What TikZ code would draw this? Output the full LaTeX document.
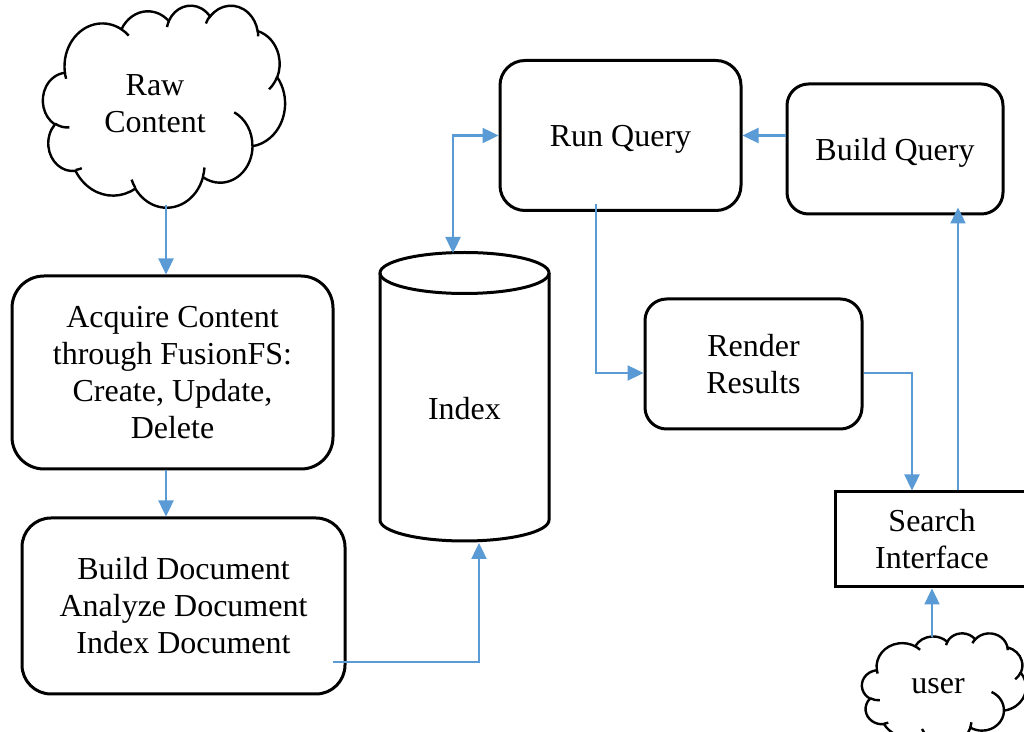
\documentclass[tikz,border=0pt]{standalone}
\usepackage{fontspec}
\setmainfont{Liberation Serif}
\usetikzlibrary{arrows.meta,calc}
\definecolor{flowblue}{HTML}{5B9BD5}

% Elliptic arc from the current point: radii, start angle and sweep,
% both angles measured from the centre of the ellipse.
\newcommand\ooarc[4]{%
  \pgfextra{%
    \pgfmathsetmacro\oaS{atan2((#1)*sin(#3),(#2)*cos(#3))}%
    \pgfmathsetmacro\oaE{atan2((#1)*sin((#3)+(#4)),(#2)*cos((#3)+(#4)))}%
    \pgfmathsetmacro\oaD{mod(\oaE-(\oaS)+720,360)}%
  }%
  arc[start angle=\oaS, delta angle=\oaD, x radius=#1, y radius=#2]}

% Cloud outline in a 43.2 x 43.2 box (y pointing down)
\newcommand\cloudoutline{%
  (3.9,14.37)
  \ooarc{6.753}{9.19}{-190.4875}{123.7805}
  \ooarc{5.333}{7.267}{-144.1024}{89.9452}
  \ooarc{4.365}{5.945}{-145.8079}{99.723}
  \ooarc{4.857}{6.595}{-130.9861}{117.2417}
  \ooarc{5.333}{7.273}{-78.7089}{109.0269}
  \ooarc{6.775}{9.22}{-46.2673}{130.269}
  \ooarc{5.785}{7.867}{0.625}{114.0333}
  \ooarc{6.752}{9.215}{22.4516}{115.1726}
  \ooarc{7.72}{10.543}{66.2426}{75.711}
  \ooarc{4.36}{5.918}{-274.9421}{146.7356}
  \ooarc{4.345}{5.945}{-246.8285}{152.5189}
  -- cycle}

% Short inner strokes between the puffs
\newcommand\cloudcreases{%
  (4.693,26.177) \ooarc{4.345}{5.945}{86.742}{26.4295}
  (6.928,34.899) \ooarc{4.36}{5.918}{73.6105}{11.4475}
  (16.478,39.09) \ooarc{6.752}{9.215}{137.6242}{14.0811}
  (28.827,34.751) \ooarc{6.752}{9.215}{6.4533}{15.9984}
  (34.129,22.954) \ooarc{5.785}{7.867}{-70.2924}{70.9174}
  (41.798,15.354) \ooarc{5.333}{7.273}{30.318}{27.7515}
  (38.324,5.426) \ooarc{4.857}{6.595}{-13.7443}{14.8589}
  (29.078,3.952) \ooarc{4.857}{6.595}{-149.1815}{18.1954}
  (22.141,4.72) \ooarc{4.365}{5.945}{-163.4943}{17.6864}
  (14,5.192) \ooarc{6.753}{9.19}{-66.707}{12.3194}
  (4.127,15.789) \ooarc{6.753}{9.19}{157.6544}{11.8582}}

\begin{document}
\begin{tikzpicture}[x=0.5pt, y=0.5pt, yscale=-1,
  every node/.style={font=\fontsize{16}{18.5}\selectfont, align=center, inner sep=0pt},
  box/.style={draw, line width=1.5pt, rounded corners=#1},
  outline/.style={line width=1.5pt},
  cloudline/.style={line width=1.2pt},
  >={Triangle[length=8pt, width=7.5pt]},
  flow/.style={draw=flowblue, line width=1.2pt, ->}]

  \useasboundingbox (0,0) rectangle (1024,732);
  \fill[white] (0,0) rectangle (1024,732);
  \clip (0,0) rectangle (1024,732);

  % clouds
  \begin{scope}[shift={(43,5)}, xscale=242/43.2, yscale=202/43.2, cloudline]
    \draw \cloudoutline;
    \draw \cloudcreases;
  \end{scope}
  \begin{scope}[shift={(862,633)}, xscale=164/43.2, yscale=111/43.2, cloudline]
    \draw \cloudoutline;
    \draw \cloudcreases;
  \end{scope}
  \node (rawtxt) at (155,104) {Raw\\Content};
  \node (usertxt) at (938,686) {user};

  % index store
  \draw[outline] (464.5,273) ellipse[x radius=84.5, y radius=20.5];
  \draw[outline] (380,273) -- (380,520)
    arc[start angle=180, end angle=0, x radius=84.5, y radius=21] -- (549,273);
  \node[text depth=0pt] (index) at (464.5,408) {Index};

  % process boxes
  \node[box=16pt, minimum width=160.5pt, minimum height=96.5pt] (acq) at (172.5,372.5)
    {Acquire Content\\through FusionFS:\\Create, Update,\\Delete};
  \node[box=14.5pt, minimum width=161.5pt, minimum height=88pt] (bdoc) at (183.5,606)
    {Build Document\\Analyze Document\\Index Document};
  \node[box=12.5pt, minimum width=120.5pt, minimum height=75pt, text depth=0pt] (runq) at (620.5,135.5)
    {Run Query};
  \node[box=10.8pt, minimum width=108pt, minimum height=65pt, text depth=0pt] (bq) at (895,149)
    {Build Query};
  \node[box=10.8pt, minimum width=108.5pt, minimum height=65pt] (render) at (753.5,364)
    {Render\\Results};
  \node[draw, line width=1.5pt, minimum width=97pt, minimum height=47.5pt] (search) at (932,539.5)
    {Search\\Interface};

  % connector ends
  \coordinate (rawout) at (166,205);
  \coordinate (userout) at (932,637);
  \coordinate (idxtop) at (453,253);
  \coordinate (idxbot) at (479,543);
  \coordinate (bdocout) at (333,662);
  \coordinate (rqout) at (596,204);

  % connectors
  \draw[flow] (rawout) -- (rawout |- acq.north);
  \draw[flow] (acq.south -| rawout) -- (bdoc.north -| rawout);
  \draw[flow] (bdocout) -| (idxbot);
  \draw[flow, <->] (idxtop) |- (runq.west);
  \draw[flow] (rqout) |- ($(render.west)+(0,9)$);
  \draw[flow] (bq.west |- runq.east) -- (runq.east);
  \draw[flow] ($(render.east)+(0,9)$) -| ($(search.north)+(-20,0)$);
  \draw[flow] ($(search.north)+(26,0)$) -- ($(bq.south)+(63,-8)$);
  \draw[flow] (userout) -- (search.south);
\end{tikzpicture}
\end{document}
